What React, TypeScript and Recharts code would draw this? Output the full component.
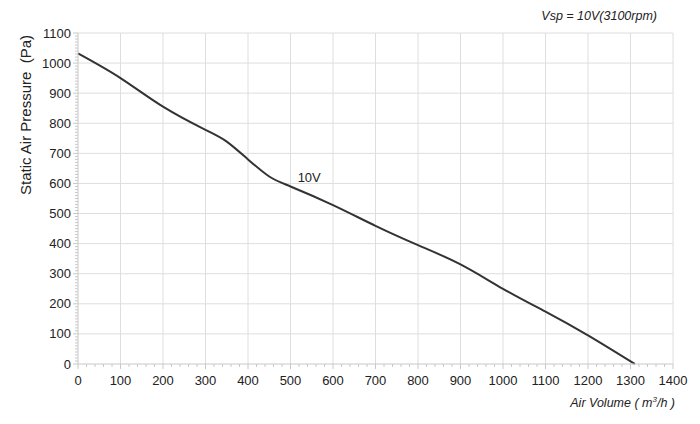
import React from "react";
import {
  LineChart,
  Line,
  XAxis,
  YAxis,
  ReferenceLine,
  ReferenceDot,
} from "recharts";

// fan curve at Vsp = 10V
const airVolume = [0, 100, 200, 300, 350, 400, 450, 500, 600, 700, 800, 900, 1000, 1100, 1200, 1310];
const pressure = [1032, 950, 855, 778, 739, 680, 623, 590, 528, 459, 395, 331, 250, 174, 95, 0];

const xMajor = [0, 100, 200, 300, 400, 500, 600, 700, 800, 900, 1000, 1100, 1200, 1300, 1400];
const yMajor = [0, 100, 200, 300, 400, 500, 600, 700, 800, 900, 1000, 1100];

const range = (max: number, step: number) => {
  const out: number[] = [];
  for (let v = 0; v <= max; v += step) out.push(v);
  return out;
};
const xTicks = range(1400, 20);
const yTicks = range(1100, 10);

const data = airVolume.map((x, i) => ({ x, p: pressure[i] }));

const FONT = "'Liberation Sans', Arial, Helvetica, sans-serif";
const AXIS = "#c8c8c8";
const GRID = "#dedede";
const TEXT = "#222";

const XTick = (props: any) => {
  const { x, y, payload } = props;
  const major = payload.value % 100 === 0;
  return (
    <g>
      <line x1={x} x2={x} y1={y} y2={y + (major ? 5 : 3)} stroke={AXIS} />
      {major && (
        <text x={x} y={y + 21} textAnchor="middle" fontSize={13} fill={TEXT} fontFamily={FONT}>
          {payload.value}
        </text>
      )}
    </g>
  );
};

const YTick = (props: any) => {
  const { x, y, payload } = props;
  const major = payload.value % 100 === 0;
  return (
    <g>
      <line x1={x - (major ? 5 : 3)} x2={x} y1={y} y2={y} stroke={AXIS} />
      {major && (
        <text x={x - 7} y={y + 4.5} textAnchor="end" fontSize={13} fill={TEXT} fontFamily={FONT}>
          {payload.value}
        </text>
      )}
    </g>
  );
};

export default function App() {
  return (
    <div style={{ position: "absolute", left: 0, top: 0, width: 700, height: 424, background: "#fff", fontFamily: FONT }}>
      <LineChart width={700} height={424} data={data} margin={{ top: 33, right: 27, bottom: 0, left: 0 }}>
        <XAxis
          dataKey="x"
          type="number"
          domain={[0, 1400]}
          ticks={xTicks}
          interval={0}
          tickSize={0}
          tickMargin={0}
          height={60}
          axisLine={{ stroke: AXIS }}
          tickLine={false}
          tick={<XTick />}
        />
        <YAxis
          type="number"
          domain={[0, 1100]}
          ticks={yTicks}
          interval={0}
          tickSize={0}
          tickMargin={0}
          width={78}
          axisLine={{ stroke: AXIS }}
          tickLine={false}
          tick={<YTick />}
        />
        {xMajor.slice(1).map((v) => (
          <ReferenceLine key={"vx" + v} x={v} stroke={GRID} />
        ))}
        {yMajor.slice(1).map((v) => (
          <ReferenceLine key={"hy" + v} y={v} stroke={GRID} />
        ))}
        <Line
          type="natural"
          dataKey="p"
          stroke="#333"
          strokeWidth={2}
          dot={false}
          isAnimationActive={false}
        />
        <ReferenceDot
          x={505}
          y={620}
          r={0}
          fill="none"
          stroke="none"
          label={{ value: "10V", position: "right", fontSize: 13, fill: TEXT, fontFamily: FONT }}
        />
      </LineChart>
      <div
        style={{
          position: "absolute",
          right: 43,
          top: 9,
          fontSize: 12.5,
          fontStyle: "italic",
          color: TEXT,
        }}
      >
        Vsp = 10V(3100rpm)
      </div>
      <div
        style={{
          position: "absolute",
          right: 25,
          top: 395,
          fontSize: 12.5,
          fontStyle: "italic",
          color: TEXT,
        }}
      >
        Air Volume ( m<sup style={{ fontSize: 8 }}>3</sup>/h )
      </div>
      <div
        style={{
          position: "absolute",
          left: 25,
          top: 115,
          transform: "translate(-50%, -50%) rotate(-90deg)",
          whiteSpace: "pre",
          fontSize: 15,
          color: TEXT,
        }}
      >
        Static Air Pressure  (Pa)
      </div>
    </div>
  );
}
